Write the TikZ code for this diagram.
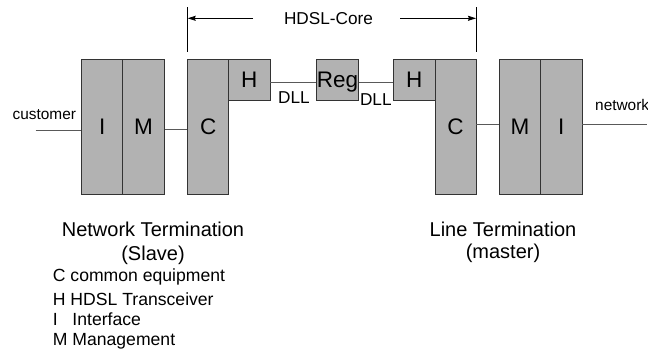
\documentclass[tikz,border=0pt]{standalone}
\usepackage{fontspec}
\setmainfont{Liberation Sans}
\usetikzlibrary{arrows.meta}
\begin{document}
\begin{tikzpicture}[x=1pt,y=-1pt,
  blk/.style={draw=black!80,fill=black!30,line width=0.8pt,inner sep=0pt,
    text height=15.8pt,text depth=0pt,
    font=\fontsize{22.5}{26}\selectfont},
  tall/.style={blk,minimum height=135pt},
  short/.style={blk,minimum height=40.7pt},
  conn/.style={draw=black!65,line width=0.8pt},
  lbl/.style={inner sep=0pt,font=\fontsize{20}{24}\selectfont},
  small/.style={inner sep=0pt,font=\fontsize{15.4}{18}\selectfont},
  dll/.style={inner sep=0pt,font=\fontsize{17.2}{20}\selectfont},
  leg/.style={inner sep=0pt,anchor=west,font=\fontsize{17.6}{21}\selectfont},
  arr/.style={line width=0.8pt,-{Stealth[length=8pt,width=5pt,inset=1pt]}}]
\useasboundingbox (0,0) rectangle (648,351);
% boxes
\node[tall,minimum width=41pt] (I1) at (102.2,126.8) {I};
\node[tall,minimum width=41.6pt] (M1) at (143.5,126.8) {M};
\node[tall,minimum width=41pt] (C1) at (208.2,126.8) {C};
\node[short,minimum width=41.3pt] (H1) at (249.3,79.7) {H};
\node[short,minimum width=41.6pt] (Reg) at (337.5,79.7) {Reg};
\node[short,minimum width=41.7pt] (H2) at (414.2,79.7) {H};
\node[tall,minimum width=41pt] (C2) at (455.5,126.8) {C};
\node[tall,minimum width=41.4pt] (M2) at (520,126.8) {M};
\node[tall,minimum width=41.3pt] (I2) at (561.3,126.8) {I};
% connectors
\coordinate (cust) at (35.7,130);
\coordinate (net) at (646.7,124.3);
\draw[conn] (cust) -- (cust -| I1.west);
\draw[conn] ([yshift=-3pt]M1.east) -- ([yshift=-3pt]C1.west);
\draw[conn] ([yshift=-3pt]H1.east) -- ([yshift=-3pt]Reg.west);
\draw[conn] ([yshift=-3pt]Reg.east) -- ([yshift=-3pt]H2.west);
\draw[conn] ([yshift=2.5pt]C2.east) -- ([yshift=2.5pt]M2.west);
\draw[conn] (net -| I2.east) -- (net);
% HDSL-Core span
\coordinate (lt) at (187.7,7.3);
\coordinate (lb) at (187.7,52.3);
\coordinate (rt) at (476,7.3);
\coordinate (rb) at (476,52.3);
\draw[line width=0.8pt] (lt) -- (lb);
\draw[line width=0.8pt] (rt) -- (rb);
\node[dll] (core) at (328.5,18.3) {HDSL-Core};
\coordinate (la) at (187.7,18.3);
\coordinate (ra) at (476,18.3);
\draw[arr] (253,18.3) -- (la);
\draw[arr] (400,18.3) -- (ra);
% labels
\node[dll] (dll1) at (294,97.8) {DLL};
\node[dll] (dll2) at (375.8,100) {DLL};
\node[small] (custl) at (44.3,115) {customer};
\node[small,anchor=west] (netl) at (595,105) {network};
\node[lbl] (nt) at (153,229) {Network Termination};
\node[lbl] (ntb) at (153,255) {(Slave)};
\node[lbl] (lt1) at (503,229) {Line Termination};
\node[lbl] (lt2) at (503,253) {(master)};
\node[leg] (leg1) at (52.7,277) {C common equipment};
\node[leg] (leg2) at (52.7,299) {H HDSL Transceiver};
\node[leg] (leg3) at (52.7,319) {I~~~Interface};
\node[leg] (leg4) at (52.7,341) {M Management};
\end{tikzpicture}
\end{document}
